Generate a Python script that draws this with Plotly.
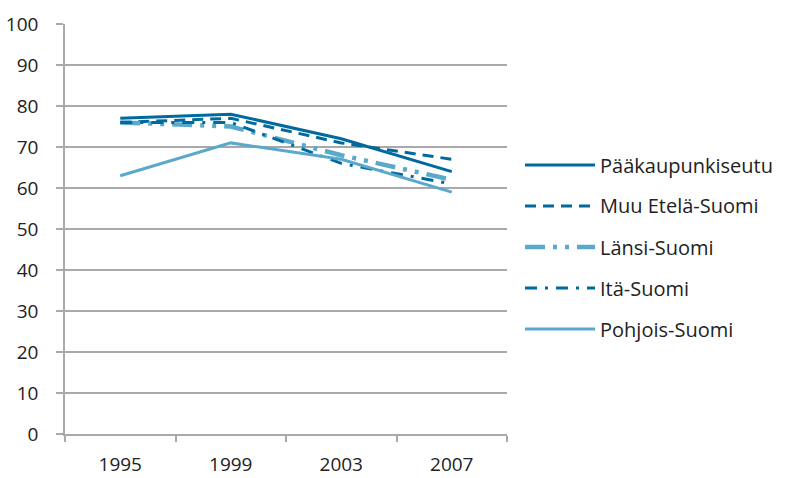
import plotly.graph_objects as go

years = ["1995", "1999", "2003", "2007"]
paakaupunkiseutu = [77, 78, 72, 64]
muu_etela_suomi = [76, 77, 71, 67]
lansi_suomi = [76, 75, 68, 62]
ita_suomi = [76, 76, 66, 61]
pohjois_suomi = [63, 71, 67, 59]
y_ticks = [0, 10, 20, 30, 40, 50, 60, 70, 80, 90, 100]

DARK = "#006A9E"
LIGHT = "#5AA8CB"
GRID = "#A9A9A9"
FONT = "Open Sans"

series = [
    ("Pääkaupunkiseutu", paakaupunkiseutu, DARK, "solid", 3),
    ("Muu Etelä-Suomi", muu_etela_suomi, DARK, "11px,7px", 3),
    ("Länsi-Suomi", lansi_suomi, LIGHT, "20px,8px,4px,8px,4px,8px", 4.5),
    ("Itä-Suomi", ita_suomi, DARK, "12px,8px,3px,8px", 3),
    ("Pohjois-Suomi", pohjois_suomi, LIGHT, "solid", 3),
]

# body margin is removed by post_script, so figure pixels == window pixels
PL, PT, PR, PB = 65, 24, 507, 434  # plot area in window pixels
W, H = 786, 478

fig = go.Figure()
for name, vals, color, dash, w in series:
    fig.add_trace(go.Scatter(x=years, y=vals, name=name, mode="lines",
                             line=dict(color=color, dash=dash, width=w),
                             showlegend=False))

pw, ph = PR - PL, PB - PT
legend_top = 165
spacing = 41
for i, (name, vals, color, dash, w) in enumerate(series):
    yp = legend_top + i * spacing
    yy = 1 - (yp - PT) / ph
    fig.add_shape(type="line", xref="paper", yref="paper",
                  x0=(525 - PL) / pw, x1=(595 - PL) / pw, y0=yy, y1=yy,
                  line=dict(color=color, dash=dash, width=w))
    fig.add_annotation(text=name, xref="paper", yref="paper",
                       x=(598 - PL) / pw, y=yy,
                       xanchor="left", yanchor="middle", showarrow=False,
                       font=dict(family=FONT, size=20, color="#222222"))

fig.update_layout(
    width=W, height=H,
    margin=dict(l=PL, r=W - PR, t=PT, b=H - PB),
    paper_bgcolor="white", plot_bgcolor="white",
    font=dict(family=FONT, size=19, color="#222222"),
)
fig.update_xaxes(type="category", range=[-0.5, 3.5], showgrid=False,
                 automargin=False,
                 showline=True, linecolor=GRID, linewidth=1.5,
                 ticks="outside", tickson="boundaries", ticklen=6,
                 tickcolor=GRID, tickwidth=1.5, ticklabelstandoff=12)
fig.update_yaxes(range=[0, 100], tickvals=y_ticks, showgrid=True,
                 automargin=False,
                 gridcolor=GRID, gridwidth=1.5, zeroline=False,
                 showline=True, linecolor=GRID, linewidth=1.5,
                 ticks="outside", ticklen=7, tickcolor=GRID, tickwidth=1.5,
                 ticklabelstandoff=14)

fig.write_html("out.html",
               config={"displayModeBar": False},
               post_script="document.body.style.margin='0';"
                           "document.body.style.overflow='hidden';")
